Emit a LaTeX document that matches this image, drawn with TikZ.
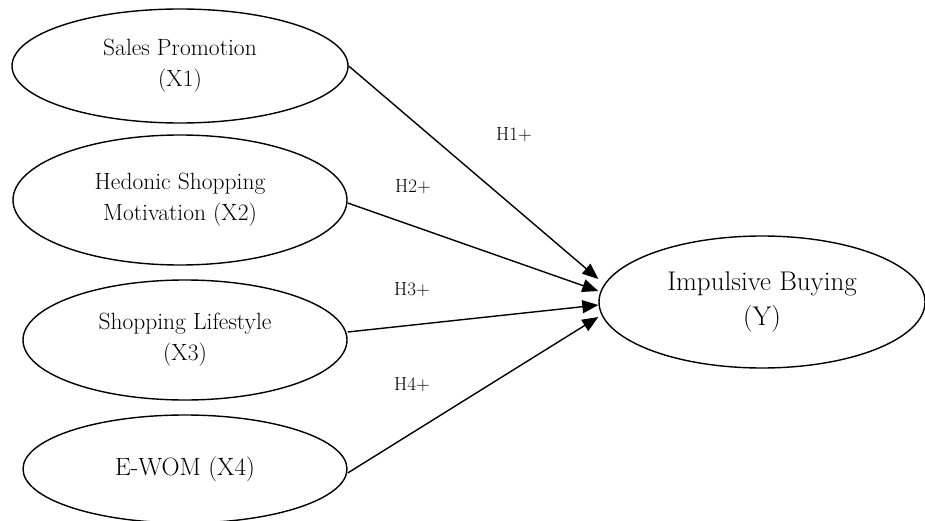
\documentclass[tikz,border=0pt]{standalone}
\usepackage{fontspec}
\usetikzlibrary{shapes.geometric,arrows.meta}
\tikzset{
  construct/.style={draw, ellipse, line width=1.4pt, inner sep=0pt, align=center,
    font=\fontsize{23.5}{31}\selectfont},
  arr/.style={line width=1.4pt, -{Triangle[length=16pt,width=13pt]}},
  hyp/.style={font=\fontsize{19}{22}\selectfont, inner sep=0pt}
}
\begin{document}
\begin{tikzpicture}[x=1pt,y=-1pt]
\useasboundingbox (0,0) rectangle (925,521);
\node[construct, minimum width=336pt, minimum height=114pt] (x1) at (180,66) {Sales Promotion\\(X1)};
\node[construct, minimum width=334pt, minimum height=130pt] (x2) at (180,200) {Hedonic Shopping\\Motivation (X2)};
\node[construct, minimum width=324pt, minimum height=120pt] (x3) at (185,340) {Shopping Lifestyle\\(X3)};
\node[construct, minimum width=324pt, minimum height=108pt, font=\fontsize{25}{30}\selectfont] (x4) at (185,469) {E-WOM (X4)};
\node[construct, minimum width=326pt, minimum height=132pt, font=\fontsize{27}{35}\selectfont] (y) at (762,302) {Impulsive Buying\\(Y)};
\draw[arr] (x1.east) -- ([yshift=23pt]y.west);
\draw[arr] ([yshift=-3pt]x2.east) -- ([yshift=11pt]y.west);
\draw[arr] ([yshift=8pt]x3.east) -- ([yshift=-3pt]y.west);
\draw[arr] ([yshift=-4pt]x4.east) -- ([yshift=-15pt]y.west);
\node[hyp] (h1) at (514,135) {H1+};
\node[hyp] (h2) at (413,187) {H2+};
\node[hyp] (h3) at (412,290) {H3+};
\node[hyp] (h4) at (412,385) {H4+};
\end{tikzpicture}
\end{document}
